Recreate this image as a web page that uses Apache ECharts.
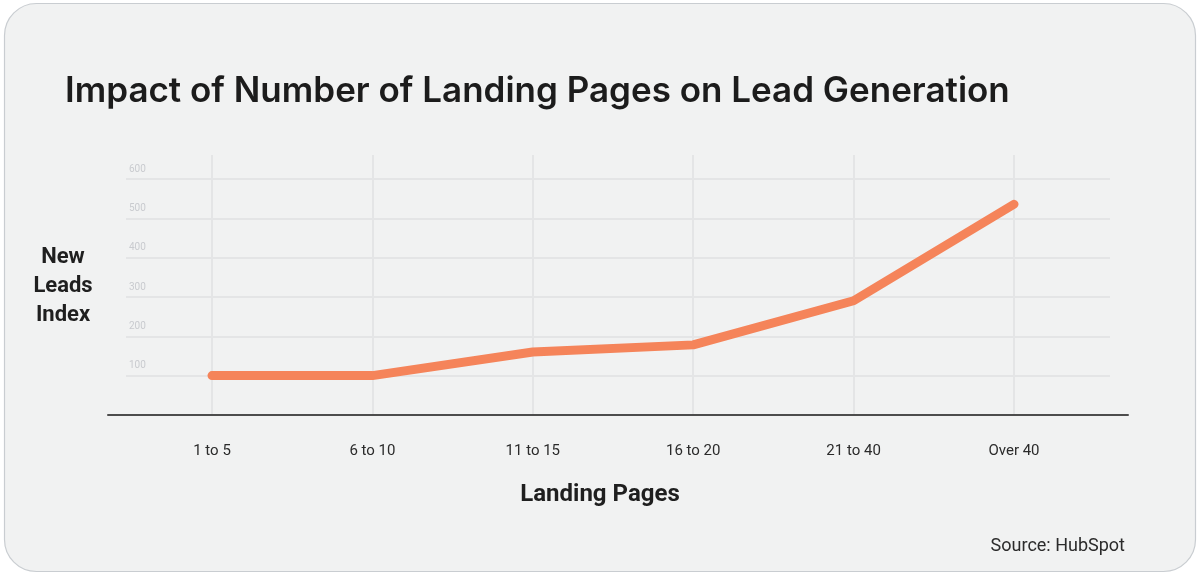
<!DOCTYPE html>
<html>
<head>
<meta charset="utf-8">
<script src="https://cdn.jsdelivr.net/npm/echarts@6/dist/echarts.min.js"></script>
<style>
  html, body { margin: 0; padding: 0; background: #ffffff; }
  #chart { width: 1200px; height: 575px; }
</style>
</head>
<body>
<div id="chart"></div>
<script>
// data
const categories = ['1 to 5', '6 to 10', '11 to 15', '16 to 20', '21 to 40', 'Over 40'];
const leadsIndex = [100, 100, 160, 178, 290, 535];
const yTicks = [0, 100, 200, 300, 400, 500, 600];

const chart = echarts.init(document.getElementById('chart'));

const option = {
    backgroundColor: '#ffffff',
    animation: false,
    graphic: [
        {
            type: 'rect',
            z: -10,
            shape: { x: 4.5, y: 3.5, width: 1191, height: 568, r: 32 },
            style: { fill: '#f1f2f2', stroke: '#c9cdd1', lineWidth: 1.2 }
        },
        {
            type: 'text',
            x: 63, y: 243,
            style: {
                text: 'New\nLeads\nIndex',
                font: 'bold 22px Roboto',
                lineHeight: 29,
                fill: '#1f1f1f',
                align: 'center',
                verticalAlign: 'top'
            }
        },
        {
            type: 'text',
            right: 75, top: 537,
            style: { text: 'Source: HubSpot', font: '18px Roboto', fill: '#2b2b2b' }
        }
    ],
    title: {
        text: 'Impact of Number of Landing Pages on Lead Generation',
        left: 60,
        top: 69,
        textStyle: { fontFamily: 'Inter', fontWeight: 600, fontSize: 35, color: '#1c1c1c' }
    },
    grid: [
        // only carries the long x axis line
        { left: 108, right: 72, top: 155, bottom: 160 },
        // horizontal grid lines and their labels
        { left: 126, right: 90, top: 179, bottom: 160 },
        // the line series and vertical grid lines
        { left: 212, right: 186, top: 155, bottom: 160 }
    ],
    xAxis: [
        {
            gridIndex: 0, type: 'value', min: 0, max: 1,
            axisLine: { show: true, lineStyle: { color: '#4d4d4d', width: 2 } },
            axisTick: { show: false }, axisLabel: { show: false }, splitLine: { show: false }
        },
        {
            gridIndex: 1, type: 'value', min: 0, max: 1, show: false
        },
        {
            gridIndex: 2, type: 'category', data: categories, boundaryGap: false,
            name: 'Landing Pages', nameLocation: 'middle', nameGap: 68,
            nameTextStyle: {
                fontFamily: 'Roboto', fontWeight: 'bold', fontSize: 24, color: '#1f1f1f',
                padding: [0, 26, 0, 0]
            },
            axisLine: { show: false }, axisTick: { show: false },
            axisLabel: { margin: 29, fontFamily: 'Roboto', fontSize: 15, color: '#2b2b2b' },
            splitLine: { show: true, lineStyle: { color: '#e4e5e6', width: 2 } }
        }
    ],
    yAxis: [
        { gridIndex: 0, type: 'value', min: 0, max: 1, show: false },
        {
            gridIndex: 1, type: 'value', min: yTicks[0], max: yTicks[yTicks.length - 1], interval: 100,
            axisLine: { show: false }, axisTick: { show: false },
            axisLabel: {
                inside: true, margin: 3, verticalAlign: 'bottom', padding: [0, 0, 5, 0],
                fontFamily: 'Roboto', fontSize: 10, color: '#c9cbcf',
                formatter: v => (v === 0 ? '' : v)
            },
            splitLine: { show: true, lineStyle: { color: '#e4e5e6', width: 2 } }
        },
        { gridIndex: 2, type: 'value', min: 0, max: 660, show: false }
    ],
    series: [
        {
            type: 'line',
            xAxisIndex: 2,
            yAxisIndex: 2,
            data: leadsIndex,
            symbol: 'none',
            lineStyle: { color: '#f5845a', width: 9, cap: 'round', join: 'round' },
            z: 5
        }
    ]
};

chart.setOption(option);
</script>
</body>
</html>
